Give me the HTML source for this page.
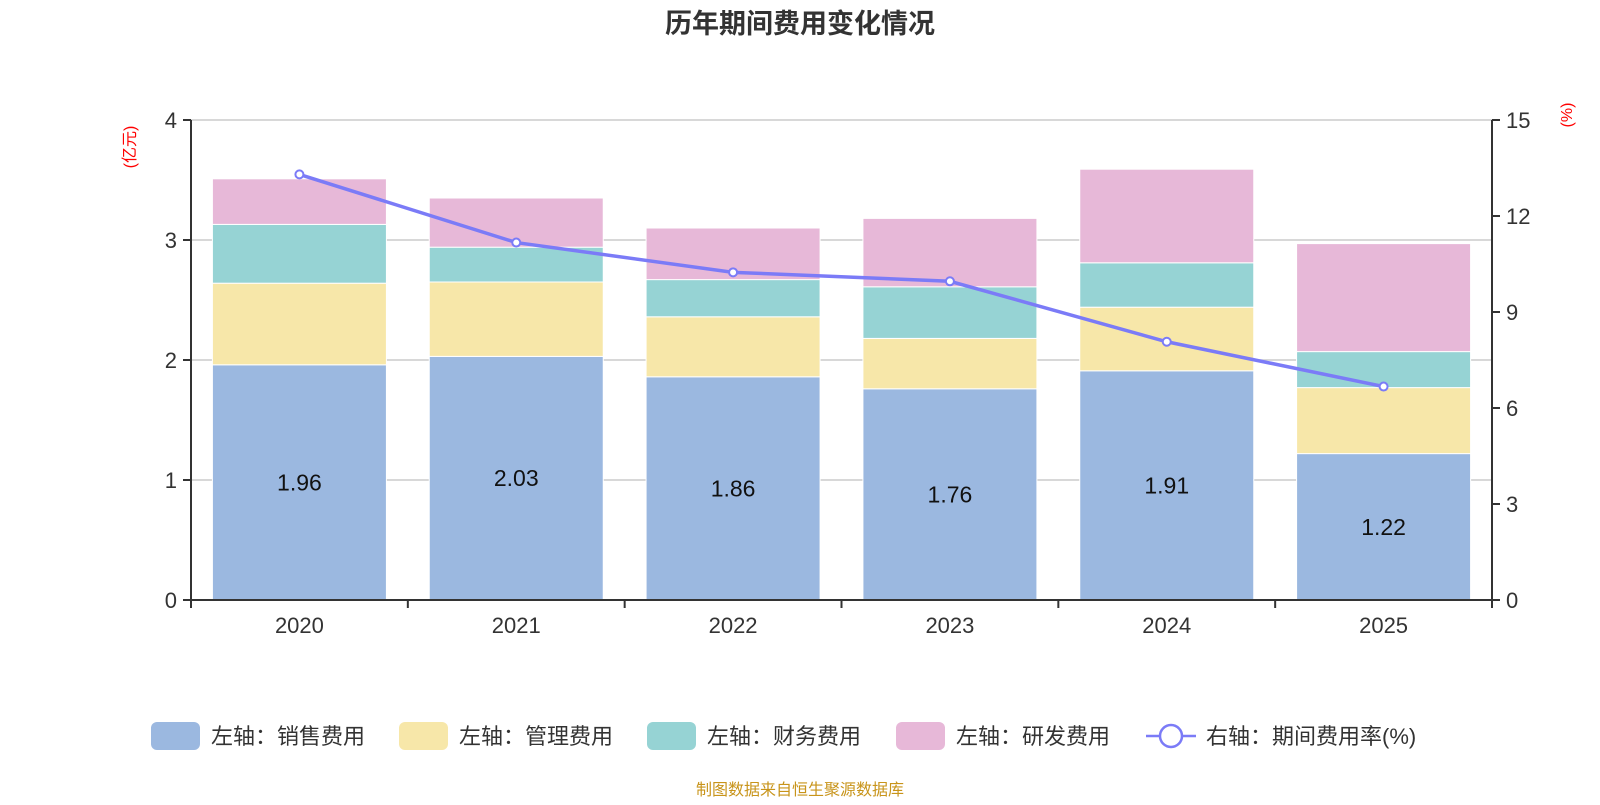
<!DOCTYPE html>
<html><head><meta charset="utf-8"><style>
body{margin:0;background:#fff;}
svg text{font-family:"Liberation Sans","Noto Sans CJK SC",sans-serif;}
</style></head><body>
<svg id="chart" width="1600" height="800" xmlns="http://www.w3.org/2000/svg">
<text x="800" y="33" text-anchor="middle" font-size="27" font-weight="bold" fill="#333">历年期间费用变化情况</text>
<text transform="translate(135,147) rotate(-90)" text-anchor="middle" font-size="16" fill="#f00">(亿元)</text>
<text transform="translate(1572,115) rotate(-90)" text-anchor="middle" font-size="16" fill="#f00">(%)</text>
<g id="grid"></g><g id="bars"></g><g id="axes"></g><g id="line"></g>
<g id="legend"></g>
<text x="800" y="795" text-anchor="middle" font-size="16" fill="#c8941a">制图数据来自恒生聚源数据库</text>
</svg>
<script>
const categories=["2020","2021","2022","2023","2024","2025"];
const sales=[1.96,2.03,1.86,1.76,1.91,1.22];
const mgmt=[0.68,0.62,0.50,0.42,0.53,0.55];
const fin=[0.49,0.29,0.31,0.43,0.37,0.30];
const rd=[0.38,0.41,0.43,0.57,0.78,0.90];
const rate=[13.3,11.17,10.24,9.96,8.07,6.67];
const leftTicks=[0,1,2,3,4];
const rightTicks=[0,3,6,9,12,15];
const seriesNames=["左轴：销售费用","左轴：管理费用","左轴：财务费用","左轴：研发费用"];
const colors=["#9bb8e0","#f7e7a9","#96d3d4","#e7b8d8"];
const X0=191,X1=1492,Y0=600,Y1=120;
const NS="http://www.w3.org/2000/svg";
const bw=(X1-X0)/categories.length;
const xc=i=>X0+bw*(i+0.5);
const yl=v=>Y0-(v/4)*(Y0-Y1);
const yr=v=>Y0-(v/15)*(Y0-Y1);
function mk(t,a,p){const e=document.createElementNS(NS,t);for(const k in a)e.setAttribute(k,a[k]);p.appendChild(e);return e;}
const G=document.getElementById('grid'),B=document.getElementById('bars'),A=document.getElementById('axes'),L=document.getElementById('line'),LG=document.getElementById('legend');
leftTicks.forEach(v=>{
 if(v>0){const g=mk('line',{x1:X0,x2:X1,y1:yl(v),y2:yl(v),stroke:'#ccc','stroke-width':1.5},G);
 
 }
 mk('line',{x1:X0-8,x2:X0,y1:yl(v),y2:yl(v),stroke:'#333','stroke-width':2},A);
 const t=mk('text',{x:X0-14,y:yl(v)+8,'text-anchor':'end','font-size':22,fill:'#333'},A);t.textContent=v;
 
 
});
rightTicks.forEach(v=>{
 mk('line',{x1:X1,x2:X1+8,y1:yr(v),y2:yr(v),stroke:'#333','stroke-width':2},A);
 const t=mk('text',{x:X1+14,y:yr(v)+8,'font-size':22,fill:'#333'},A);t.textContent=v;
 
 
});
mk('line',{x1:X0,x2:X0,y1:Y1,y2:Y0,stroke:'#333','stroke-width':2},A);
mk('line',{x1:X1,x2:X1,y1:Y1,y2:Y0,stroke:'#333','stroke-width':2},A);
mk('line',{x1:X0,x2:X1,y1:Y0,y2:Y0,stroke:'#333','stroke-width':2},A);
for(let i=0;i<=categories.length;i++)mk('line',{x1:X0+bw*i,x2:X0+bw*i,y1:Y0,y2:Y0+8,stroke:'#333','stroke-width':2},A);
const series=[sales,mgmt,fin,rd];
categories.forEach((c,i)=>{
 const t=mk('text',{x:xc(i),y:Y0+33,'text-anchor':'middle','font-size':22,fill:'#333'},A);t.textContent=c;
 
 
 let base=0;
 series.forEach((s,k)=>{
  const r=mk('rect',{x:xc(i)-87,width:174,y:yl(base+s[i]),height:yl(base)-yl(base+s[i]),fill:colors[k],stroke:'#fff','stroke-width':1},B);
  
  
  base+=s[i];
 });
 const lb=mk('text',{x:xc(i),y:(yl(sales[i])+Y0)/2+8,'text-anchor':'middle','font-size':23,fill:'#111'},B);lb.textContent=sales[i].toFixed(2);
 
 
});
const pl=mk('polyline',{points:rate.map((v,i)=>xc(i)+','+yr(v)).join(' '),fill:'none',stroke:'#7b7bf7','stroke-width':3.5},L);


rate.forEach((v,i)=>{const p=mk('circle',{cx:xc(i),cy:yr(v),r:4,fill:'#fff',stroke:'#7b7bf7','stroke-width':2},L);
 
 });
// legend
const lx=[151,399,647,896];
seriesNames.forEach((n,k)=>{
 const r=mk('rect',{x:lx[k],y:722,width:49,height:28,rx:6,fill:colors[k]},LG);
 
 
 const t=mk('text',{x:lx[k]+60,y:744,'font-size':22,fill:'#333'},LG);t.textContent=n;
 
 
});
mk('line',{x1:1146,x2:1196,y1:736,y2:736,stroke:'#7b7bf7','stroke-width':2.5},LG);
const lc=mk('circle',{cx:1171,cy:736,r:11,fill:'#fff',stroke:'#7b7bf7','stroke-width':2.5},LG);


const lt=mk('text',{x:1206,y:744,'font-size':22,fill:'#333'},LG);lt.textContent="右轴：期间费用率(%)";


</script>
</body></html>
